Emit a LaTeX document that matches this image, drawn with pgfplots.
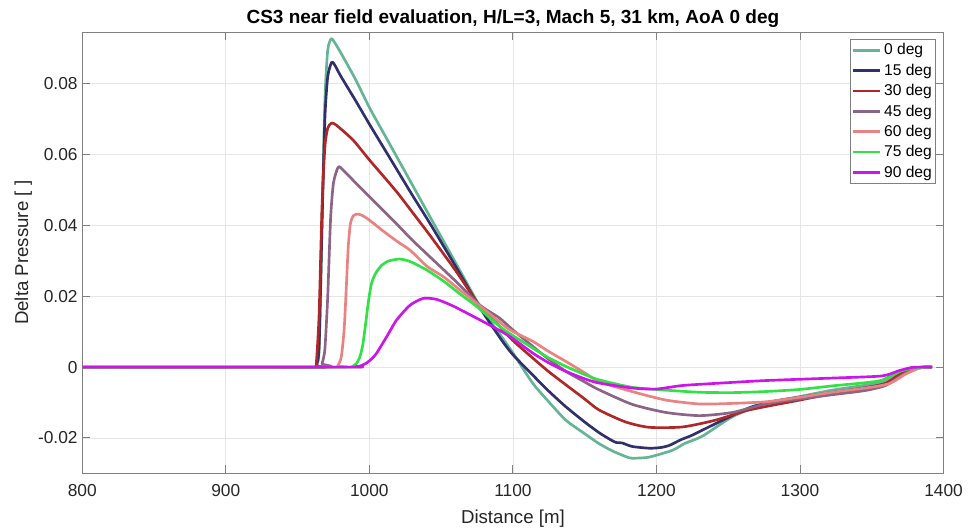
\documentclass[border=0pt]{standalone}
\usepackage{pgfplots}
\pgfplotsset{compat=1.18}
\usepackage{fontspec}
\setmainfont{Liberation Sans}
\definecolor{c0}{RGB}{102,180,150}
\definecolor{c15}{RGB}{48,48,108}
\definecolor{c30}{RGB}{175,40,40}
\definecolor{c45}{RGB}{140,100,135}
\definecolor{c60}{RGB}{235,130,130}
\definecolor{c75}{RGB}{50,225,70}
\definecolor{c90}{RGB}{205,20,235}
\definecolor{axgray}{RGB}{128,128,128}
\definecolor{txtgray}{RGB}{38,38,38}
\begin{document}
\begin{tikzpicture}
\useasboundingbox (-61.7pt,-41.8pt) rectangle (668pt,355pt);
\begin{axis}[
  at={(0,0)}, anchor=south west,
  scale only axis, width=645.9pt, height=330.75pt,
  xmin=800, xmax=1400, ymin=-0.03, ymax=0.0945,
  xtick={800,900,1000,1100,1200,1300,1400},
  xticklabels={800,900,1000,1100,1200,1300,1400},
  ytick={-0.02,0,0.02,0.04,0.06,0.08},
  yticklabels={-0.02,0,0.02,0.04,0.06,0.08},
  scaled y ticks=false,
  /pgf/number format/assume math mode=true,
  ticklabel style={font=\fontsize{13}{15}\selectfont, text=txtgray},
  xticklabel style={yshift=-5pt},
  grid=major,
  major grid style={line width=0.5pt, draw=black!10},
  axis line style={draw=axgray, line width=0.7pt},
  major tick style={draw=axgray, line width=0.7pt},
  major tick length=6pt,
  tick align=inside,
  title={\bfseries CS3 near field evaluation, H/L=3, Mach 5, 31 km, AoA 0 deg},
  title style={at={(axis description cs:0.5,1.02)}, anchor=base, yshift=-6pt, font=\fontsize{14.25}{16}\selectfont, text=black},
  xlabel={Distance [m]},
  ylabel={Delta Pressure [ ]},
  xlabel style={at={(axis description cs:0.5,-0.1128)}, anchor=base, font=\fontsize{14}{16}\selectfont, text=txtgray},
  ylabel style={at={(axis description cs:-0.063,0.5)}, anchor=base, font=\fontsize{14}{16}\selectfont, text=txtgray},
  legend cell align=left,
  legend style={at={(axis description cs:0.9915,0.9845)}, anchor=north east,
    draw=axgray, line width=0.6pt, fill=white, font=\fontsize{11.7}{13}\selectfont,
    inner xsep=1pt, inner ysep=1pt, row sep=1.3pt},
  legend image code/.code={\draw[#1] (0pt,0pt) -- (20.5pt,0pt);},
  every axis plot/.append style={line width=2pt, line join=round, smooth, tension=0.4},
]
\addplot[c0] coordinates {(800,0)(960,0)(963,0.0005)(965,0.005)(967,0.04)(969,0.075)(971,0.0895)(973.5,0.0927)(976,0.0915)(980,0.0888)(990,0.0815)(1000,0.0733)(1010,0.066)(1020,0.0587)(1030,0.0514)(1042,0.0426)(1060,0.0295)(1077,0.0172)(1090,0.0098)(1100,0.004)(1113.7,-0.0045)(1125,-0.0098)(1136.9,-0.015)(1150,-0.0188)(1160,-0.0216)(1170,-0.0238)(1181,-0.0256)(1186,-0.0257)(1195,-0.0254)(1211,-0.0235)(1220,-0.0215)(1232,-0.0195)(1253,-0.014)(1276,-0.0102)(1300,-0.0083)(1322.5,-0.0065)(1345.7,-0.0051)(1358,-0.0042)(1369,-0.0017)(1378,-0.0003)(1385,0)(1392,0)};
\addlegendentry{0 deg}
\addplot[c15] coordinates {(800,0)(960,0)(963,0.0005)(965,0.006)(967,0.04)(969,0.07)(971,0.082)(973.8,0.0861)(976,0.0852)(980,0.0822)(990,0.0755)(1000,0.0686)(1010,0.0619)(1020,0.0552)(1030,0.0485)(1042,0.0407)(1060,0.0285)(1077,0.0168)(1092,0.0077)(1100,0.0035)(1113.7,-0.0022)(1125,-0.0068)(1136.9,-0.0112)(1150,-0.0155)(1160,-0.0185)(1168,-0.0205)(1172,-0.0213)(1176,-0.0214)(1183,-0.0224)(1195,-0.0229)(1203,-0.0227)(1209,-0.0221)(1217,-0.0205)(1225,-0.0192)(1241,-0.016)(1264.5,-0.0115)(1280,-0.0098)(1300,-0.0085)(1322,-0.0072)(1346,-0.0058)(1360,-0.0046)(1370,-0.0021)(1380,-0.0004)(1386,0)(1392,0)};
\addlegendentry{15 deg}
\addplot[c30] coordinates {(800,0)(961,0)(963,0.001)(965,0.015)(967,0.045)(969,0.062)(971,0.0675)(973.8,0.0689)(977,0.0683)(985,0.0655)(990,0.0635)(1000,0.0585)(1010,0.0538)(1020,0.049)(1030,0.0437)(1042,0.0373)(1060,0.0273)(1077,0.0172)(1090.5,0.0116)(1100,0.0075)(1113.7,0.0026)(1125,-0.0013)(1136.9,-0.005)(1150,-0.009)(1160,-0.0121)(1178.6,-0.0155)(1195,-0.017)(1218,-0.0169)(1241,-0.015)(1264.5,-0.0121)(1300,-0.0093)(1322,-0.0075)(1357,-0.005)(1369,-0.0022)(1380.5,-0.0003)(1387,0)(1392,0)};
\addlegendentry{30 deg}
\addplot[c45] coordinates {(800,0)(965,0)(967,0.001)(969,0.005)(971,0.02)(973,0.042)(975,0.052)(978.4,0.0565)(982,0.0555)(990,0.0522)(1000,0.0481)(1010,0.0441)(1020,0.04)(1030,0.0358)(1042,0.0312)(1060,0.0243)(1077,0.0175)(1090.5,0.0139)(1100,0.0105)(1113.7,0.0059)(1125,0.0022)(1136.9,-0.0012)(1150,-0.0042)(1160,-0.0064)(1183,-0.0105)(1206.5,-0.0128)(1230,-0.0137)(1253,-0.0128)(1276,-0.0104)(1300,-0.009)(1322.5,-0.0078)(1345.7,-0.0066)(1359.6,-0.0052)(1369,-0.0028)(1378,-0.0008)(1387,0)(1392,0)};
\addlegendentry{45 deg}
\addplot[c60] coordinates {(800,0)(975,0)(978,0.0004)(980.5,0.003)(982.5,0.011)(984,0.023)(985.3,0.034)(986.8,0.0405)(989,0.0428)(992.3,0.0432)(996,0.0426)(1000,0.0415)(1010,0.0383)(1020,0.0353)(1028.4,0.033)(1040,0.0285)(1051.6,0.0255)(1063,0.0218)(1074.8,0.018)(1086,0.0143)(1098,0.0105)(1113.7,0.0073)(1125,0.0044)(1136.9,0.0016)(1150,-0.0016)(1160,-0.0041)(1183,-0.0069)(1206.5,-0.0093)(1229.7,-0.0104)(1249,-0.0103)(1276,-0.0098)(1300,-0.0085)(1322.5,-0.0071)(1345.7,-0.0059)(1362,-0.0047)(1373.5,-0.002)(1383,-0.0003)(1388,0)(1392,0)};
\addlegendentry{60 deg}
\addplot[c75] coordinates {(800,0)(984,0)(988,0.0002)(991,0.001)(993.5,0.003)(995.5,0.0065)(997.5,0.0125)(999.5,0.019)(1001.5,0.0236)(1004,0.0262)(1008,0.0285)(1013,0.0299)(1020.9,0.0305)(1028.4,0.0298)(1040,0.0274)(1051.6,0.0243)(1063,0.0207)(1074.8,0.0171)(1093.4,0.0107)(1113.7,0.0054)(1125,0.0026)(1136.9,0.0002)(1150,-0.0021)(1160,-0.0036)(1183,-0.0057)(1206.5,-0.0065)(1229.7,-0.0071)(1253,-0.0072)(1276,-0.0069)(1300,-0.0063)(1322.5,-0.0053)(1345.7,-0.0044)(1357,-0.0037)(1369,-0.0013)(1378,-0.0003)(1386,0)(1392,0)};
\addlegendentry{75 deg}
\addplot[c90] coordinates {(800,0)(985,0)(990,0.0001)(993.5,0.0003)(998.2,0.0012)(1002,0.0025)(1005,0.0039)(1012.1,0.0086)(1019,0.0133)(1028.4,0.0175)(1037.6,0.0194)(1047,0.0191)(1058.5,0.0172)(1074.8,0.0138)(1086.4,0.0113)(1098,0.0086)(1113.7,0.004)(1125,0.0012)(1136.9,-0.0012)(1150,-0.0033)(1160,-0.0045)(1183,-0.0059)(1199.5,-0.0062)(1218,-0.0052)(1241,-0.0046)(1276,-0.0038)(1322.5,-0.0031)(1357,-0.0025)(1369,-0.001)(1378,-0.0001)(1385,0)(1392,0)};
\addlegendentry{90 deg}
\end{axis}
\end{tikzpicture}
\end{document}
